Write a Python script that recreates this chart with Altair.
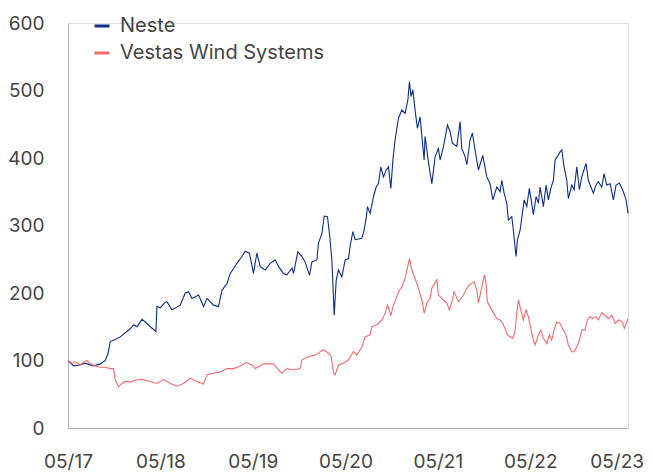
import altair as alt
import pandas as pd

# Decimal-year positions and indexed values (start = 100)
neste_t = [2017.333, 2017.394, 2017.448, 2017.520, 2017.610, 2017.682, 2017.736, 2017.765, 2017.790, 2017.844,
           2017.898, 2017.952, 2018.007, 2018.042, 2018.079, 2018.133, 2018.169, 2018.223, 2018.284, 2018.295,
           2018.331, 2018.374, 2018.403, 2018.457, 2018.547, 2018.601, 2018.637, 2018.674, 2018.745, 2018.799,
           2018.836, 2018.907, 2018.961, 2018.998, 2019.052, 2019.088, 2019.160, 2019.214, 2019.250, 2019.296,
           2019.339, 2019.376, 2019.412, 2019.466, 2019.520, 2019.574, 2019.610, 2019.664, 2019.701, 2019.755,
           2019.772, 2019.819, 2019.863, 2019.898, 2019.945, 2019.971, 2020.025, 2020.042, 2020.079, 2020.104,
           2020.139, 2020.161, 2020.187, 2020.198, 2020.212, 2020.234, 2020.258, 2020.295, 2020.331, 2020.367,
           2020.385, 2020.414, 2020.439, 2020.511, 2020.536, 2020.558, 2020.572, 2020.601, 2020.637, 2020.666,
           2020.691, 2020.717, 2020.745, 2020.774, 2020.799, 2020.825, 2020.847, 2020.871, 2020.907, 2020.944,
           2020.979, 2021.009, 2021.026, 2021.044, 2021.063, 2021.087, 2021.112, 2021.141, 2021.185, 2021.195,
           2021.231, 2021.268, 2021.304, 2021.339, 2021.358, 2021.394, 2021.437, 2021.466, 2021.491, 2021.538,
           2021.574, 2021.592, 2021.628, 2021.647, 2021.682, 2021.707, 2021.736, 2021.772, 2021.819, 2021.863,
           2021.898, 2021.928, 2021.971, 2022.007, 2022.025, 2022.050, 2022.079, 2022.096, 2022.133, 2022.150,
           2022.179, 2022.194, 2022.223, 2022.267, 2022.295, 2022.323, 2022.367, 2022.396, 2022.421, 2022.439,
           2022.475, 2022.504, 2022.529, 2022.555, 2022.583, 2022.601, 2022.626, 2022.655, 2022.674, 2022.698,
           2022.728, 2022.745, 2022.782, 2022.807, 2022.836, 2022.864, 2022.890, 2022.936, 2022.961, 2023.015,
           2023.044, 2023.069, 2023.106, 2023.131, 2023.160, 2023.197, 2023.232, 2023.261, 2023.297, 2023.340,
           2023.369, 2023.390]
neste_v = [100, 92, 93, 96, 92, 95, 100, 110, 128, 131,
           135, 141, 147, 153, 150, 161, 157, 150, 143, 180,
           178, 185, 187, 175, 182, 200, 202, 192, 197, 180,
           192, 182, 180, 204, 214, 229, 244, 254, 262, 259,
           229, 259, 239, 234, 244, 249, 239, 229, 227, 237,
           229, 261, 254, 246, 226, 246, 249, 274, 288, 314,
           313, 288, 249, 214, 167, 219, 234, 224, 249, 251,
           270, 291, 279, 281, 293, 311, 328, 318, 343, 357,
           362, 387, 372, 382, 387, 355, 397, 427, 459, 471,
           466, 486, 513, 491, 501, 471, 444, 461, 397, 432,
           394, 362, 402, 414, 397, 417, 449, 439, 422, 417,
           454, 414, 402, 390, 427, 437, 412, 382, 404, 372,
           362, 338, 357, 350, 367, 348, 333, 308, 313, 293,
           254, 279, 293, 338, 328, 355, 316, 343, 333, 357,
           328, 360, 338, 355, 367, 397, 402, 409, 412, 387,
           367, 340, 360, 353, 387, 353, 372, 392, 367, 348,
           360, 365, 357, 377, 360, 362, 338, 360, 363, 350,
           338, 318]

vestas_t = [2017.333, 2017.376, 2017.412, 2017.466, 2017.502, 2017.538, 2017.574, 2017.628, 2017.682, 2017.736,
            2017.790, 2017.826, 2017.844, 2017.880, 2017.917, 2017.952, 2018.007, 2018.061, 2018.133, 2018.187,
            2018.223, 2018.295, 2018.367, 2018.439, 2018.511, 2018.583, 2018.655, 2018.728, 2018.799, 2018.836,
            2018.907, 2018.979, 2019.052, 2019.123, 2019.196, 2019.261, 2019.322, 2019.358, 2019.448, 2019.556,
            2019.610, 2019.647, 2019.701, 2019.772, 2019.844, 2019.863, 2019.934, 2020.007, 2020.096, 2020.150,
            2020.179, 2020.204, 2020.222, 2020.258, 2020.312, 2020.367, 2020.421, 2020.457, 2020.511, 2020.547,
            2020.601, 2020.619, 2020.674, 2020.728, 2020.763, 2020.788, 2020.825, 2020.853, 2020.890, 2020.918,
            2020.944, 2020.979, 2021.004, 2021.026, 2021.052, 2021.098, 2021.134, 2021.160, 2021.185, 2021.214,
            2021.250, 2021.268, 2021.322, 2021.339, 2021.376, 2021.430, 2021.458, 2021.484, 2021.509, 2021.556,
            2021.610, 2021.647, 2021.675, 2021.725, 2021.755, 2021.772, 2021.809, 2021.837, 2021.855, 2021.869,
            2021.917, 2021.971, 2022.007, 2022.036, 2022.086, 2022.140, 2022.165, 2022.187, 2022.204, 2022.230,
            2022.258, 2022.287, 2022.312, 2022.338, 2022.367, 2022.385, 2022.421, 2022.447, 2022.475, 2022.511,
            2022.540, 2022.565, 2022.590, 2022.619, 2022.655, 2022.690, 2022.719, 2022.745, 2022.782, 2022.807,
            2022.836, 2022.864, 2022.890, 2022.925, 2022.950, 2022.979, 2023.008, 2023.044, 2023.069, 2023.106,
            2023.141, 2023.179, 2023.214, 2023.252, 2023.288, 2023.325, 2023.349, 2023.371, 2023.390]
vestas_v = [100, 96, 98, 93, 98, 100, 95, 92, 90, 90,
            88, 88, 71, 61, 66, 69, 68, 71, 72, 70,
            69, 66, 72, 66, 62, 66, 74, 69, 65, 79,
            81, 83, 88, 88, 92, 97, 93, 88, 95, 95,
            86, 81, 88, 86, 88, 101, 106, 108, 116, 111,
            106, 83, 79, 93, 96, 101, 113, 108, 120, 135,
            138, 150, 153, 160, 170, 182, 167, 182, 195, 204,
            209, 222, 237, 251, 234, 217, 202, 190, 170, 185,
            192, 207, 220, 197, 192, 185, 175, 187, 202, 187,
            197, 207, 212, 217, 204, 185, 209, 227, 214, 187,
            175, 162, 160, 155, 138, 133, 140, 170, 190, 175,
            160, 175, 165, 148, 130, 123, 138, 145, 133, 125,
            138, 130, 145, 157, 155, 145, 138, 123, 113, 113,
            120, 130, 145, 145, 160, 165, 162, 165, 160, 171,
            167, 162, 167, 155, 160, 158, 148, 155, 162]

series_names = ["Neste", "Vestas Wind Systems"]
series_colors = ["#0b2d8e", "#f66a6a"]
tick_years = [2017, 2018, 2019, 2020, 2021, 2022, 2023]

START = pd.Timestamp("2017-05-01")


def to_date(years):
    return [START + pd.to_timedelta((y - 2017.333) * 365.25, unit="D") for y in years]


df = pd.concat([
    pd.DataFrame({"date": to_date(neste_t), "value": neste_v, "series": series_names[0]}),
    pd.DataFrame({"date": to_date(vestas_t), "value": vestas_v, "series": series_names[1]}),
], ignore_index=True)

end_date = max(df["date"])

font = "Inter"
label_color = "#444444"

chart = alt.Chart(df).mark_line(strokeWidth=1.1).encode(
    x=alt.X("date:T", title=None,
            scale=alt.Scale(domain=[alt.DateTime(year=2017, month=5, date=1),
                                    alt.DateTime(year=end_date.year, month=end_date.month,
                                                 date=end_date.day, hours=end_date.hour)]),
            axis=alt.Axis(values=[alt.DateTime(year=y, month=5, date=1) for y in tick_years],
                          format="%m/%y", ticks=False, grid=False, labelFontSize=19,
                          labelColor=label_color, labelFont=font, labelPadding=24,
                          labelOffset={"condition": {"test": "year(datum.value) >= 2023", "value": -6},
                                       "value": 0},
                          domainColor="#b5b5b5", labelFlush=False, labelOverlap=False)),
    y=alt.Y("value:Q", title=None,
            scale=alt.Scale(domain=[0, 600], nice=False),
            axis=alt.Axis(values=[0, 100, 200, 300, 400, 500, 600], ticks=False, grid=False,
                          labelFontSize=19, labelColor=label_color, labelFont=font,
                          labelPadding=24, domainColor="#b5b5b5", minExtent=52, maxExtent=52)),
    color=alt.Color("series:N", scale=alt.Scale(domain=series_names, range=series_colors),
                    legend=alt.Legend(title=None, orient="none", legendX=24, legendY=-7,
                                      symbolType="stroke", symbolSize=225, symbolStrokeWidth=3,
                                      labelFontSize=20, labelFont=font, labelColor=label_color,
                                      labelOffset=8, rowPadding=7, labelLimit=400)),
).properties(
    width=560, height=405,
    padding={"left": 60, "top": 15, "right": 16, "bottom": 46},
    autosize=alt.AutoSizeParams(type="none"),
).configure_view(stroke=None).configure(background="white")

chart.save("out.html", embed_options={"renderer": "svg", "actions": False})
